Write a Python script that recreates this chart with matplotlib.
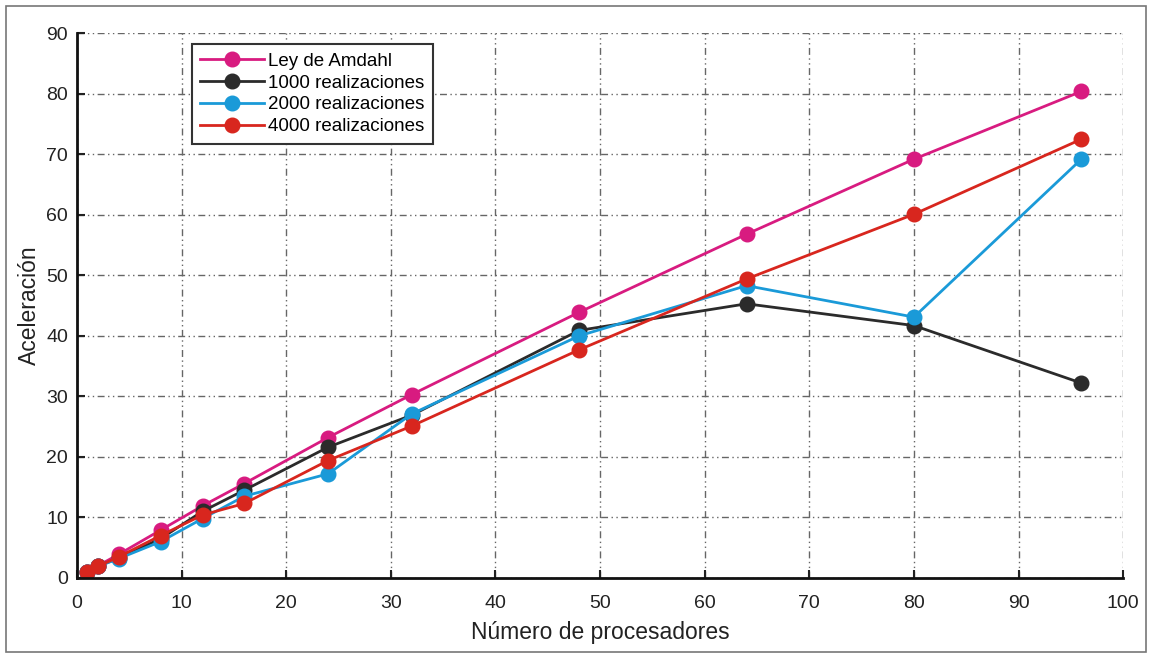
import matplotlib
matplotlib.use("Agg")
import matplotlib.pyplot as plt
from matplotlib.patches import Rectangle

procesadores = [1, 2, 4, 8, 12, 16, 24, 32, 48, 64, 80, 96]
amdahl = [1.0, 2.0, 3.9, 7.9, 11.9, 15.6, 23.2, 30.3, 43.9, 56.8, 69.2, 80.4]
r1000 = [1.0, 1.9, 3.3, 6.5, 11.0, 14.5, 21.6, 26.9, 40.9, 45.3, 41.7, 32.2]
r2000 = [1.0, 1.9, 3.2, 6.0, 9.8, 13.5, 17.2, 27.1, 40.0, 48.3, 43.1, 69.2]
r4000 = [1.0, 1.9, 3.5, 7.0, 10.4, 12.3, 19.4, 25.1, 37.7, 49.4, 60.1, 72.5]

series = [
    ("Ley de Amdahl", amdahl, "#d81b80"),
    ("1000 realizaciones", r1000, "#2b2b2b"),
    ("2000 realizaciones", r2000, "#1a9ad8"),
    ("4000 realizaciones", r4000, "#d8261e"),
]

plt.rcParams['font.family'] = ['Liberation Sans', 'DejaVu Sans']

fig = plt.figure(figsize=(11.52, 6.53), dpi=100)
ax = fig.add_axes([0.0668, 0.115, 0.9082, 0.834])

for label, vals, col in series:
    ax.plot(procesadores, vals, '-o', color=col, lw=2.0, ms=10.5, label=label)

ax.set_xlim(0, 100)
ax.set_ylim(0, 90)
ax.set_xticks(range(0, 101, 10))
ax.set_yticks(range(0, 91, 10))
ax.tick_params(direction='in', length=6, width=1.5, labelsize=14, colors='#222222')
ax.tick_params(axis='x', pad=12)
ax.tick_params(axis='y', pad=6.5)
ax.spines['top'].set_visible(False)
ax.spines['right'].set_visible(False)
ax.spines['left'].set_linewidth(2)
ax.spines['bottom'].set_linewidth(2)
ax.spines['left'].set_color('#111111')
ax.spines['bottom'].set_color('#111111')
ax.grid(True, color='#666666', lw=1.0, linestyle=(0, (5, 2.5, 1, 2.5, 1, 2.5)))
ax.set_axisbelow(True)
ax.set_xlabel("Número de procesadores", fontsize=16.5, labelpad=6.5, color='#222222')
ax.set_ylabel("Aceleración", fontsize=16.5, labelpad=4, color='#222222')

leg = ax.legend(loc='upper left', bbox_to_anchor=(0.1095, 0.98), fontsize=13.5,
                frameon=True, fancybox=False, edgecolor='#333333', framealpha=1,
                handlelength=3.4, handletextpad=0.25, borderpad=0.45, labelspacing=0.25,
                borderaxespad=0)
leg.get_frame().set_linewidth(1.5)

fig.patches.append(Rectangle((6 / 1152, 1 / 653), 1140 / 1152, 646 / 653,
                             transform=fig.transFigure,
                             fill=False, edgecolor='#777777', lw=1.2))

fig.savefig("out.png", dpi=100)
